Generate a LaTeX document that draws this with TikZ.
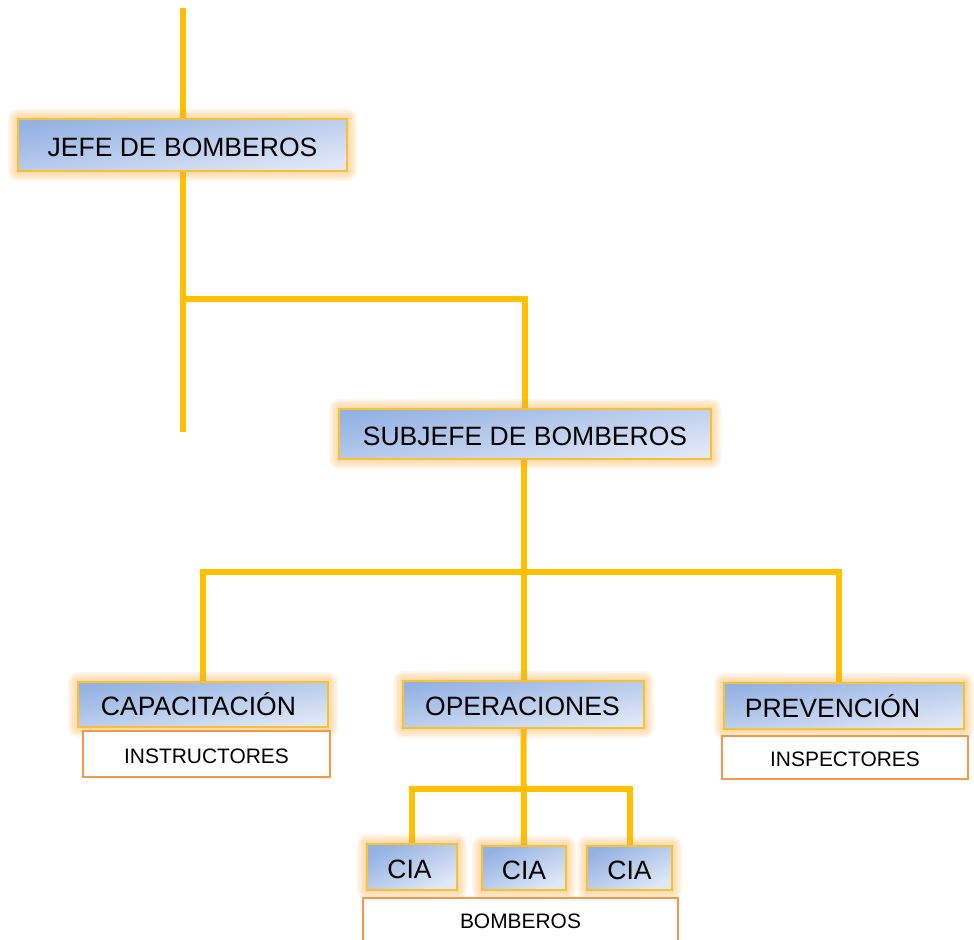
\documentclass[tikz,border=0pt]{standalone}
\usepackage{fontspec}
\setmainfont{Liberation Sans}
\usetikzlibrary{fit,backgrounds}

\definecolor{linkc}{HTML}{FFC000}
\definecolor{boxtop}{HTML}{94B2E3}
\definecolor{boxbot}{HTML}{E0E8F6}
\definecolor{boxedge}{HTML}{F6C234}
\definecolor{glowc}{HTML}{F9A840}
\definecolor{staffedge}{HTML}{F79646}

\tikzset{
  halo/.style={preaction={draw=glowc, line width=#1, draw opacity=.11, line join=round}},
  link/.style={draw=linkc, line width=4.5pt},
  unitbox/.style={inner sep=0pt, draw=boxedge, line width=1.4pt,
    top color=boxtop, bottom color=boxbot, shading angle=10,
    halo=15pt, halo=12pt, halo=9pt, halo=6pt, halo=3pt},
  staffbox/.style={inner sep=0pt, draw=staffedge, line width=2pt, fill=white},
  unittext/.style={anchor=base, inner sep=0pt, yshift=-8.25pt,
    font=\fontsize{19.9}{22}\selectfont},
  stafftext/.style={anchor=base, inner sep=0pt, yshift=-7.1pt,
    font=\fontsize{15.7}{18}\selectfont},
}

\begin{document}
\begin{tikzpicture}[x=0.75pt, y=-0.75pt]
  \useasboundingbox (0,0) rectangle (974,939);

  % unit boxes
  \node[unitbox, fit={(18,119) (347,171)}] (jefe) {};
  \node[unitbox, fit={(339,409) (711,459)}] (sub) {};
  \node[unitbox, fit={(78,682) (328,727)}] (cap) {};
  \node[unitbox, fit={(403,681) (644,728)}] (ops) {};
  \node[unitbox, fit={(724,683) (964,729)}] (prev) {};
  \node[unitbox, shading angle=27, fit={(367,844) (457,890)}] (cia1) {};
  \node[unitbox, shading angle=27, fit={(482,846) (566,890)}] (cia2) {};
  \node[unitbox, shading angle=27, fit={(587,846) (672,890)}] (cia3) {};

  % staff boxes under the units
  \node[staffbox, fit={(83,731) (330,777)}] (instr) {};
  \node[staffbox, fit={(722,736) (968,779)}] (insp) {};
  \node[staffbox, fit={(363,898) (678,944)}] (bomb) {};

  % labels
  \node[unittext] at (jefe.center) {JEFE DE BOMBEROS};
  \node[unittext] at (sub.center) {SUBJEFE DE BOMBEROS};
  \node[unittext, xshift=-3.4pt] at (cap.center) {CAPACITACIÓN};
  \node[unittext, xshift=-0.8pt] at (ops.center) {OPERACIONES};
  \node[unittext, xshift=-8.6pt] at (prev.center) {PREVENCIÓN};
  \node[unittext, xshift=-1.9pt] at (cia1.center) {CIA};
  \node[unittext] at (cia2.center) {CIA};
  \node[unittext] at (cia3.center) {CIA};
  \node[stafftext] at (instr.center) {INSTRUCTORES};
  \node[stafftext] at (insp.center) {INSPECTORES};
  \node[stafftext, yshift=1.5pt] at (bomb.center) {BOMBEROS};

  % connectors
  \coordinate (top) at (182.5,8);
  \coordinate (jtail) at (182.5,432);
  \coordinate (fork) at (182.5,299);
  \coordinate (bus) at (521,572);
  \coordinate (bus2) at (521,789);
  \begin{scope}[on background layer]
    \draw[link] (top) -- (jefe.north);
    \draw[link] (jefe.south) -- (jtail);
    \draw[link] (fork) -| (sub.north);
    \draw[link] (ops.north |- sub.south) -- (ops.north);
    \draw[link] (cap.north) |- (bus) -| ([xshift=-3.75pt]prev.north);
    \draw[link] (ops.south) -- (cia2.north);
    \draw[link] (cia1.north) |- (bus2) -| (cia3.north);
  \end{scope}
\end{tikzpicture}
\end{document}
